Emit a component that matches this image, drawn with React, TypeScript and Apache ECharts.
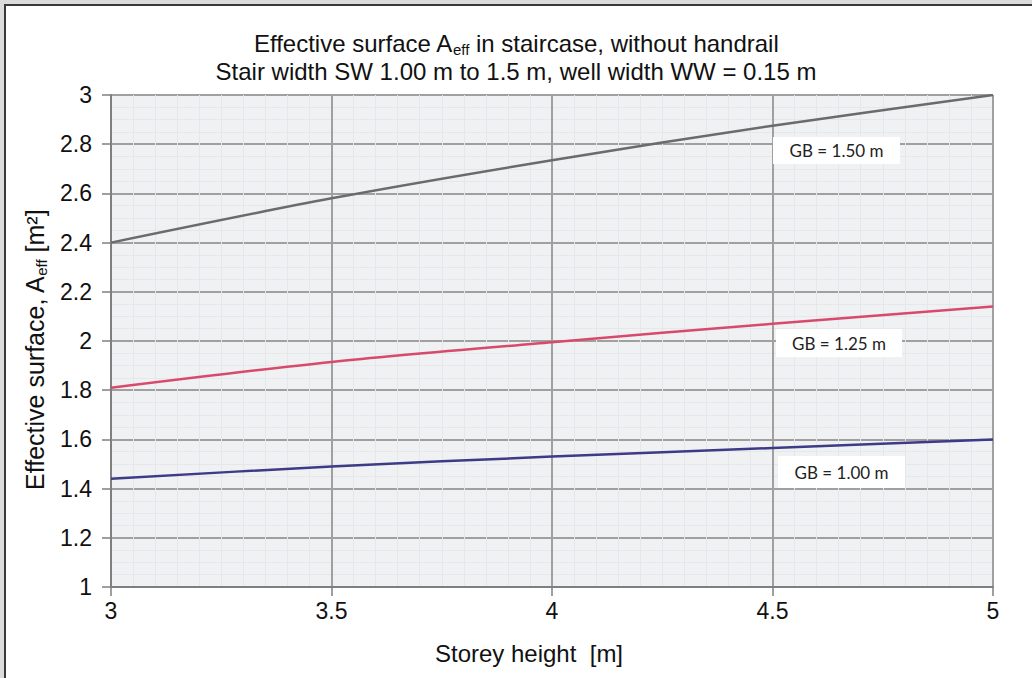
import React, { useEffect, useRef } from "react";
import * as echarts from "echarts";

const storeyHeights = [3, 3.5, 4, 4.5, 5];
const gb150 = [2.4, 2.58, 2.735, 2.875, 3.0];
const gb125 = [1.81, 1.915, 1.995, 2.07, 2.14];
const gb100 = [1.44, 1.49, 1.53, 1.565, 1.6];
const seriesNames = ["GB = 1.50 m", "GB = 1.25 m", "GB = 1.00 m"];
const seriesColors = ["#6b6b6b", "#d84a6b", "#3d3a86"];

const FONT = "Liberation Sans, Arial, sans-serif";

export default function App() {
  const ref = useRef<HTMLDivElement>(null);
  useEffect(() => {
    document.body.style.margin = "0";
    const chart = echarts.init(ref.current!, null, { renderer: "svg" });
    const mk = (vals: number[]) => storeyHeights.map((x, i) => [x, vals[i]]);
    const allVals = [gb150, gb125, gb100];
    const labelBox = (x: number, y: number, w: number, h: number, text: string) => ({
      type: "group",
      children: [
        { type: "rect", shape: { x, y, width: w, height: h }, style: { fill: "#ffffff" }, z: 100 },
        {
          type: "text",
          x: x + w / 2,
          y: y + h / 2,
          style: { text, fill: "#222", font: "17px Lato, 'Open Sans', sans-serif", align: "center", verticalAlign: "middle" },
          z: 101,
        },
      ],
    });
    chart.setOption({
      animation: false,
      backgroundColor: "#ffffff",
      title: {
        left: "center",
        top: 24,
        text: "Effective surface A{sub|eff} in staircase, without handrail\nStair width SW 1.00 m to 1.5 m, well width WW = 0.15 m",
        textStyle: {
          fontFamily: FONT,
          fontSize: 24,
          fontWeight: "normal",
          color: "#111",
          lineHeight: 28,
          rich: {
            sub: { fontSize: 15, verticalAlign: "bottom", padding: [12, 0, 0, 0], fontFamily: FONT, color: "#111" },
          },
        },
      },
      graphic: [
        { type: "rect", shape: { x: 0, y: 0, width: 1032, height: 4 }, style: { fill: "#dcdcdc" }, z: -10 },
        { type: "rect", shape: { x: 0, y: 0, width: 4, height: 678 }, style: { fill: "#dcdcdc" }, z: -10 },
        { type: "rect", shape: { x: 4, y: 4, width: 1028, height: 2 }, style: { fill: "#3a3a3a" }, z: -10 },
        { type: "rect", shape: { x: 4, y: 4, width: 2, height: 674 }, style: { fill: "#3a3a3a" }, z: -10 },
        labelBox(773, 137, 127, 27, seriesNames[0]),
        labelBox(776, 329, 126, 28, seriesNames[1]),
        labelBox(778, 456, 127, 32, seriesNames[2]),
      ],
      grid: {
        left: 111,
        top: 95,
        width: 882,
        height: 492,
        show: true,
        backgroundColor: "#f0f1f3",
        borderWidth: 0,
      },
      xAxis: {
        type: "value",
        min: 3,
        max: 5,
        interval: 0.5,
        name: "Storey height  [m]",
        nameLocation: "middle",
        nameGap: 54,
        nameTextStyle: { fontFamily: FONT, fontSize: 24, color: "#111", padding: [0, 46, 0, 0] },
        axisLine: { show: true, lineStyle: { color: "#7f7f7f", width: 2 } },
        axisTick: { show: true, length: 9, lineStyle: { color: "#7f7f7f", width: 1.5 } },
        axisLabel: { fontFamily: FONT, fontSize: 23, color: "#111", margin: 12 },
        splitLine: { show: true, lineStyle: { color: "#a0a0a0", width: 2 } },
        minorTick: { show: false, splitNumber: 10 },
        minorSplitLine: { show: true, lineStyle: { color: "#e5e7ea", width: 1 } },
      },
      yAxis: {
        type: "value",
        min: 1,
        max: 3,
        interval: 0.2,
        name: "Effective surface, A{sub|eff} [m²]",
        nameLocation: "middle",
        nameGap: 47,
        nameTextStyle: {
          fontFamily: FONT,
          fontSize: 25,
          color: "#111",
          padding: [0, 18, 0, 0],
          rich: { sub: { fontSize: 15, fontFamily: FONT, color: "#111", verticalAlign: "bottom", padding: [13, 0, 0, 0] } },
        },
        axisLine: { show: true, lineStyle: { color: "#7f7f7f", width: 2 } },
        axisTick: { show: true, length: 9, lineStyle: { color: "#7f7f7f", width: 1.5 } },
        axisLabel: { fontFamily: FONT, fontSize: 23, color: "#111", margin: 19 },
        splitLine: { show: true, lineStyle: { color: "#a0a0a0", width: 2 } },
        minorTick: { show: false, splitNumber: 4 },
        minorSplitLine: { show: true, lineStyle: { color: "#e5e7ea", width: 1 } },
      },
      series: allVals.map((vals, i) => ({
        type: "line",
        name: seriesNames[i],
        data: mk(vals),
        smooth: 0.3,
        showSymbol: false,
        lineStyle: { color: seriesColors[i], width: 2.5 },
        z: 5,
      })),
    });
    return () => chart.dispose();
  }, []);
  return <div ref={ref} style={{ width: 1032, height: 678 }} />;
}
